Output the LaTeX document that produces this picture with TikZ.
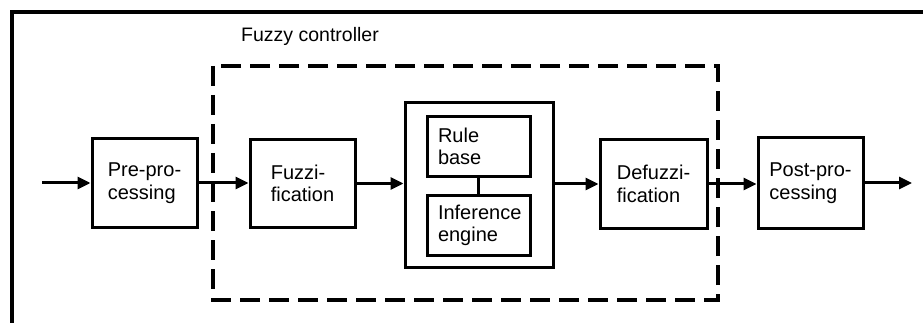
\documentclass[tikz,border=0pt]{standalone}
\usepackage{fontspec}
\setmainfont{Liberation Sans}
\usetikzlibrary{arrows.meta,positioning}

\begin{document}
\begin{tikzpicture}
                [
                    x=1pt, y=-1pt,
                    font=\fontsize{20}{22.5}\selectfont,
                    blockbox/.style={rectangle, draw, line width=3pt, align=left, minimum width=105pt, minimum height=88pt},
                    innerbox/.style={rectangle, draw, line width=3pt, align=left, text width=81pt, inner xsep=11pt, minimum height=60pt},
                    enginebox/.style={rectangle, draw, line width=3pt, minimum width=148pt, minimum height=164pt},
                    flow/.style={line width=3pt, -{Triangle[length=13pt,width=12pt]}},
                ]
                \useasboundingbox (0,0) rectangle (923,323);

                % outer frame, left and top edge only
                \draw[line width=4pt] (12,323) -- (12,12) -- (923,12);

                % fuzzy controller boundary
                \draw[line width=3.5pt, dash pattern=on 20pt off 9pt] (213,66) rectangle (718,300);
                \node [anchor=base west, inner sep=0pt, font=\fontsize{19.5}{22}\selectfont] (ctrltext) at (241,42) {Fuzzy controller};

                \node [blockbox] (preproc) at (144.5,183) {Pre-pro-\\cessing};
                \node [blockbox] (fuzzif) at (302.5,183.5) {Fuzzi-\\fication};
                \node [enginebox] (engine) at (479,185) {};
                \node [innerbox] (rulebase) at (478.5,146.5) {Rule\\base};
                \node [innerbox] (inference) at (478.5,225.5) {Inference\\engine};
                \node [blockbox, minimum width=107pt] (defuzzif) at (653.5,184) {Defuzzi-\\fication};
                \node [blockbox, minimum height=90pt] (postproc) at (810.5,183) {Post-pro-\\cessing};

                \coordinate (input) at (42,183);
                \coordinate (output) at (912,183);

                \draw[flow] (input) -- (preproc.west);
                \draw[flow] (preproc.east) -- (fuzzif.west |- preproc.east);
                \draw[flow] (fuzzif.east) -- (engine.west |- fuzzif.east);
                \draw[line width=3pt] (rulebase.south) -- (inference.north);
                \draw[flow] (engine.east |- defuzzif.west) -- (defuzzif.west);
                \draw[flow] (defuzzif.east) -- (postproc.west |- defuzzif.east);
                \draw[flow] (postproc.east) -- (output);

            \end{tikzpicture}
\end{document}
